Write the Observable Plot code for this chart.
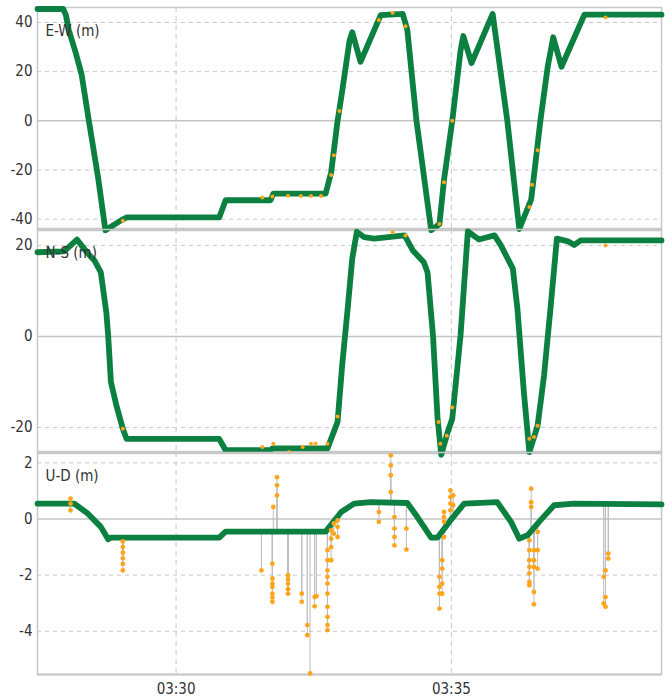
<!DOCTYPE html>
<html><head><meta charset="utf-8">
<script src="https://cdn.jsdelivr.net/npm/d3@7"></script>
<script src="https://cdn.jsdelivr.net/npm/@observablehq/plot@0.6"></script>
<style>
body{margin:0;background:#fff}
#chart{position:relative;width:672px;height:700px;overflow:hidden}
#chart svg{position:absolute;left:0}
</style>
</head><body><div id="chart"></div>
<script>
// ---- time axis ----
const xDomain = ["03:27:29", "03:38:49"];
const timeTicks = ["03:30:00", "03:35:00"];

// ---- E-W (m) ----
const ewTime = ["03:27:29","03:27:57","03:28:00","03:28:03","03:28:10","03:28:17","03:28:25","03:28:35","03:28:43","03:29:00","03:29:06","03:30:47","03:30:54","03:31:43","03:31:46","03:32:43","03:32:49","03:32:56","03:33:01","03:33:09","03:33:12","03:33:21","03:33:43","03:34:07","03:34:12","03:34:22","03:34:38","03:34:47","03:34:52","03:35:01","03:35:10","03:35:13","03:35:22","03:35:45","03:36:01","03:36:14","03:36:27","03:36:37","03:36:45","03:36:51","03:37:00","03:37:25","03:38:49"];
const ewValue = [45.5,45.5,43,37,28.5,19,0,-23,-44.5,-40.5,-39.3,-39.3,-32.3,-32.3,-29.6,-29.6,-21,0,12,32.5,36,24,43,43.5,37,0,-44.5,-42,-24,0,28.5,34.5,23.5,43.5,0,-44,-32,0,22,34,22,43.2,43.2];
const ewFloatTime = ["03:29:02","03:31:34","03:31:45","03:32:02","03:32:16","03:32:27","03:32:38","03:32:49","03:32:52","03:32:58","03:33:41","03:33:56","03:34:10","03:34:47","03:34:52","03:35:01","03:36:25","03:36:28","03:36:34","03:37:48"];
const ewFloatValue = [-40.6,-31.2,-30.8,-30.5,-30.6,-30.6,-30.6,-22,-14,4,41,44,38.5,-42,-25,0,-35,-26,-12,42];
const ewTicks = [-40,-20,0,20,40];
const ewDomain = [-44.2, 46.1];

// ---- N-S (m) ----
const nsTime = ["03:27:29","03:27:58","03:28:12","03:28:24","03:28:31","03:28:38","03:28:44","03:28:46","03:28:49","03:28:55","03:29:02","03:29:06","03:30:47","03:30:54","03:31:43","03:31:45","03:32:45","03:32:56","03:33:01","03:33:07","03:33:12","03:33:17","03:33:25","03:33:36","03:34:09","03:34:18","03:34:30","03:34:34","03:34:40","03:34:45","03:34:49","03:34:56","03:35:01","03:35:10","03:35:18","03:35:30","03:35:47","03:35:54","03:36:07","03:36:12","03:36:19","03:36:25","03:36:34","03:36:41","03:36:48","03:36:55","03:37:07","03:37:14","03:37:21","03:38:49"];
const nsValue = [18.5,18.7,21.3,18.2,16.7,14.1,5.3,0.2,-10,-15.2,-20.3,-22.5,-22.5,-25,-25,-24.6,-24.6,-18.8,-6.4,6.1,17.1,23,21.8,21.5,22.2,18.9,16.3,14.1,0.2,-18.1,-26,-21,-18.1,0.2,23.1,21.3,22.2,20,14.9,6.1,-12.2,-25.4,-19.6,-8.6,6.1,21.5,20.9,20.1,21.1,21.1];
const nsFloatTime = ["03:29:02","03:31:34","03:31:46","03:32:03","03:32:18","03:32:27","03:32:32","03:32:45","03:32:56","03:33:56","03:34:10","03:34:46","03:34:48","03:34:55","03:35:01","03:36:25","03:36:30","03:36:34","03:37:48"];
const nsFloatValue = [-20.3,-24.3,-23.6,-25.4,-24.3,-23.6,-23.6,-23.6,-17.6,22.9,22.2,-18.8,-23.6,-21.8,-15.6,-22.5,-22.1,-19.6,20];
const nsTicks = [-20,0,20];
const nsDomain = [-25.5, 23.5];

// ---- U-D (m) ----
const udTime = ["03:27:29","03:28:09","03:28:24","03:28:38","03:28:46","03:28:49","03:30:47","03:30:54","03:32:43","03:33:00","03:33:14","03:33:32","03:34:12","03:34:23","03:34:38","03:34:45","03:34:59","03:35:14","03:35:50","03:36:05","03:36:14","03:36:23","03:36:37","03:36:52","03:37:14","03:38:49"];
const udValue = [0.55,0.55,0.19,-0.28,-0.72,-0.66,-0.66,-0.45,-0.45,0.25,0.55,0.6,0.57,0.07,-0.66,-0.66,-0.05,0.55,0.6,-0.1,-0.7,-0.58,-0.05,0.49,0.55,0.52];
const udSpikeTime = ["03:28:05","03:29:02","03:31:33","03:31:45","03:31:46","03:31:50","03:32:02","03:32:17","03:32:23","03:32:26","03:32:31","03:32:33","03:32:45","03:32:49","03:32:52","03:32:56","03:33:41","03:33:54","03:33:58","03:34:11","03:34:47","03:34:50","03:34:52","03:34:59","03:35:02","03:36:25","03:36:27","03:36:30","03:36:34","03:37:46","03:37:48","03:37:51"];
const udSpikeValues = [
  [0.73,0.55,0.31],[-0.8,-1.0,-1.2,-1.4,-1.6,-1.83],[-1.83],[-1.59,-2.12,-2.3,-2.42,-2.66,-2.8,-2.95],[0.43],[1.49,1.2,0.84],
  [-2.0,-2.15,-2.3,-2.5,-2.66],[-2.66,-2.95],[-3.78,-4.14],[-5.5],[-2.78,-3.11],[-2.75],
  [-1.11,-1.47,-1.83,-2.06,-2.3,-2.66,-3.13,-3.49,-3.78,-3.96],[-0.4,-0.7,-1.0,-1.47],[-0.16,-0.52],[-0.05,-0.28,-0.64],
  [0.25,-0.1],[2.27,1.91,1.56,0.96],[0.07,-0.34,-0.64,-0.94],[-0.34,-1.09],
  [-2.06,-2.42,-2.66,-3.19],[-1.47,-1.77,-2.3,-2.66],[0.25,0.07,-0.1,-0.64],[1.02,0.78,0.55,0.31],[0.84,0.49],
  [-0.76,-1.11,-1.47,-1.71,-1.94,-2.24,-2.36],[1.08,0.6,0.43],[-1.11,-1.47,-1.71,-2.6,-3.04],[-0.46,-1.11,-1.77],
  [-2.06,-3.01],[-1.83,-2.78,-3.13],[-1.23,-1.41]
];
const udTicks = [-4,-2,0,2];
const udDomain = [-5.54, 2.37];

const labels = ["E-W (m)", "N-S (m)", "U-D (m)"];

// ---- build ----
const parse = d3.utcParse("%H:%M:%S");
const GREEN = "#0b8040", ORANGE = "#ffa51c", GRID = "#c8c8c8";
const FONT = "'Liberation Sans Narrow', 'DejaVu Sans Condensed', 'Liberation Sans', sans-serif";

const series = (times, values) => times.map((t, i) => ({t: parse(t), v: values[i]}));
const ew = series(ewTime, ewValue), ewF = series(ewFloatTime, ewFloatValue);
const ns = series(nsTime, nsValue), nsF = series(nsFloatTime, nsFloatValue);
const ud = series(udTime, udValue);
const bis = d3.bisector(d => d.t).left;
function udAt(t) {
  const i = Math.max(1, Math.min(ud.length - 1, bis(ud, t)));
  const a = ud[i - 1], b = ud[i];
  const f = (t - a.t) / (b.t - a.t);
  return a.v + f * (b.v - a.v);
}
const udSpikes = udSpikeTime.flatMap((t, i) => udSpikeValues[i].map(v => {
  const tt = parse(t);
  return {t: tt, v, base: udAt(tt)};
}));

const xd = xDomain.map(parse), xt = timeTicks.map(parse);

function panel({data, floats, spikes, ticks, domain, label, top, height, mt, mb, xAxis}) {
  const marks = [
    Plot.ruleX(xt, {stroke: GRID, strokeDasharray: "5,4"}),
    Plot.ruleY(ticks.filter(d => d !== 0), {stroke: GRID, strokeDasharray: "4,4"}),
    Plot.ruleY([0], {stroke: "#c4c4c4", strokeWidth: 1.5}),
    Plot.frame({stroke: GRID, strokeWidth: 1.5}),
    Plot.ruleY([domain[0]], {stroke: GRID, strokeWidth: xAxis ? 2 : 3.5}),
    Plot.axisY({ticks, tickSize: 0, tickPadding: 5, tickFormat: d => String(d), fill: "#333", label: null}),
  ];
  if (spikes) marks.push(Plot.ruleX(spikes, {x: "t", y1: "base", y2: "v", stroke: "#bdbdbd", strokeWidth: 1}));
  marks.push(Plot.line(data, {x: "t", y: "v", stroke: GREEN, strokeWidth: 5.8, strokeLinejoin: "round", strokeLinecap: "round"}));
  if (floats) marks.push(Plot.dot(floats, {x: "t", y: "v", r: 2, fill: ORANGE}));
  if (spikes) marks.push(Plot.dot(spikes, {x: "t", y: "v", r: 2.4, fill: ORANGE}));
  marks.push(Plot.text([label], {frameAnchor: "top-left", dx: 8, dy: 24, lineAnchor: "middle", textAnchor: "start", fill: "#333", fontSize: 15}));
  if (xAxis) marks.push(Plot.axisX({ticks: xt, tickSize: 0, tickPadding: 9, tickFormat: d3.utcFormat("%H:%M"), fill: "#333", label: null}));
  const svg = Plot.plot({
    width: 672, height, marginLeft: 37, marginRight: 11, marginTop: mt, marginBottom: mb,
    x: {type: "utc", domain: xd, axis: null, label: null},
    y: {domain, axis: null, label: null},
    style: {fontFamily: FONT, fontSize: "15px", overflow: "visible", background: "transparent"},
    marks
  });
  svg.style.top = top + "px";
  document.getElementById("chart").appendChild(svg);
}

panel({data: ew, floats: ewF, ticks: ewTicks, domain: ewDomain, label: labels[0], top: 0, height: 230, mt: 7, mb: 1});
panel({data: ns, floats: nsF, ticks: nsTicks, domain: nsDomain, label: labels[1], top: 229, height: 224, mt: 0, mb: 1});
panel({data: ud, spikes: udSpikes, ticks: udTicks, domain: udDomain, label: labels[2], top: 452, height: 248, mt: 0, mb: 26, xAxis: true});
</script>
</body></html>
